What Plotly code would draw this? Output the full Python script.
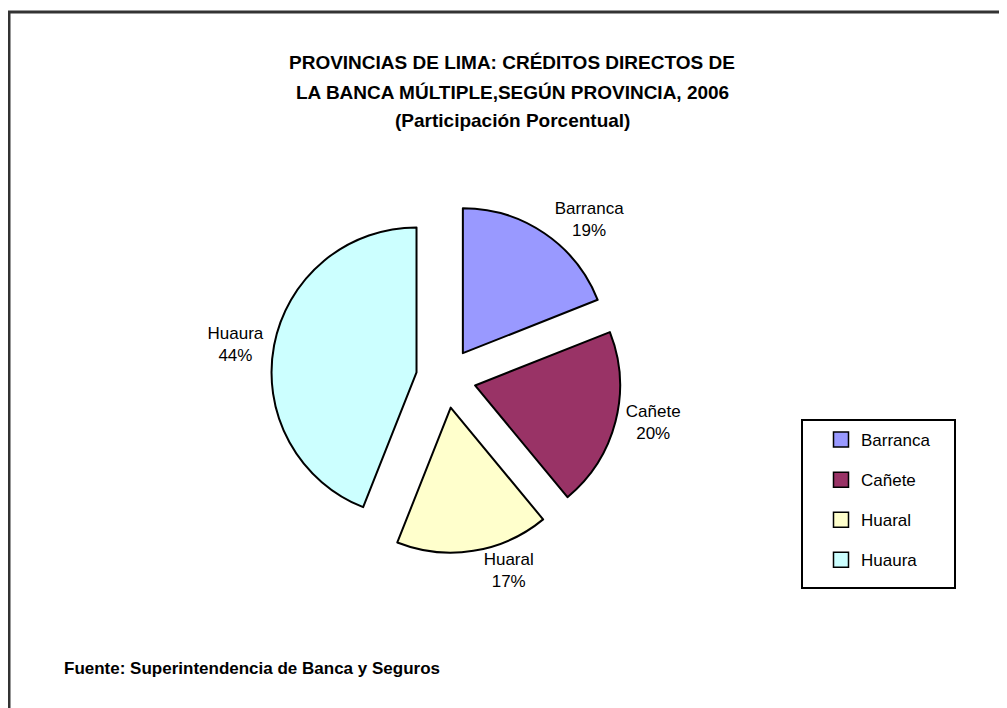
import plotly.graph_objs as go

# Datos: participación porcentual por provincia
provincias = ["Barranca", "Cañete", "Huaral", "Huaura"]
participacion = [19, 20, 17, 44]
colores = ["#9999FF", "#993366", "#FFFFCC", "#CCFFFF"]

titulo = [
    "PROVINCIAS DE LIMA: CRÉDITOS DIRECTOS DE",
    "LA BANCA MÚLTIPLE,SEGÚN PROVINCIA, 2006",
    "(Participación Porcentual)",
]
fuente = "Fuente: Superintendencia de Banca y Seguros"

W, H = 1007, 708
OFF = 8  # margen del body de la página html
FONT = "Liberation Sans, Arial, sans-serif"

def px(x):
    return (x - OFF) / W

def py(y):
    return 1 - (y - OFF) / H

fig = go.Figure()

# Torta con todas las porciones separadas
fig.add_trace(go.Pie(
    labels=provincias,
    values=participacion,
    sort=False,
    direction="clockwise",
    rotation=0,
    pull=0.207,
    marker=dict(colors=colores, line=dict(color="black", width=2)),
    textinfo="label+percent",
    textposition="outside",
    textfont=dict(family=FONT, size=17, color="black"),
    domain=dict(x=[px(271), px(621)], y=[py(553), py(203)]),
    showlegend=False,
    hoverinfo="label+percent",
))

# Leyenda con cuadrados (una entrada por provincia)
for nombre, color in zip(provincias, colores):
    fig.add_trace(go.Scatter(
        x=[None], y=[None],
        mode="markers",
        name=nombre,
        legendgroup=nombre,
        marker=dict(symbol="square", size=15, color=color,
                    line=dict(color="black", width=1.5)),
    ))

# Título en tres líneas
anotaciones = []
for linea, yc in zip(titulo, [63, 92, 121]):
    anotaciones.append(dict(
        text="<b>" + linea + "</b>",
        x=px(512), xanchor="center", y=py(yc), yanchor="middle",
        xref="paper", yref="paper", showarrow=False,
        font=dict(family=FONT, size=19, color="black"),
    ))
anotaciones.append(dict(
    text="<b>" + fuente + "</b>",
    x=px(62), xanchor="left", y=py(668), yanchor="middle",
    xref="paper", yref="paper", showarrow=False,
    font=dict(family=FONT, size=17, color="black"),
))

fig.update_layout(
    width=W,
    height=H,
    margin=dict(t=0, b=0, l=0, r=0),
    plot_bgcolor="white",
    paper_bgcolor="white",
    font=dict(family=FONT, color="black"),
    xaxis=dict(visible=False),
    yaxis=dict(visible=False),
    legend=dict(
        x=px(821), xanchor="left",
        y=py(422), yanchor="top",
        bgcolor="rgba(0,0,0,0)",
        borderwidth=0,
        tracegroupgap=15,
        font=dict(family=FONT, size=17, color="black"),
    ),
    shapes=[
        # marco del gráfico
        dict(type="rect", xref="paper", yref="paper",
             x0=px(9), x1=1.05, y0=-0.05, y1=py(12),
             line=dict(color="#333333", width=3)),
        # marco de la leyenda
        dict(type="rect", xref="paper", yref="paper",
             x0=px(802), x1=px(955), y0=py(588), y1=py(420),
             line=dict(color="black", width=2)),
    ],
    annotations=anotaciones,
)

fig.write_html("out.html")
